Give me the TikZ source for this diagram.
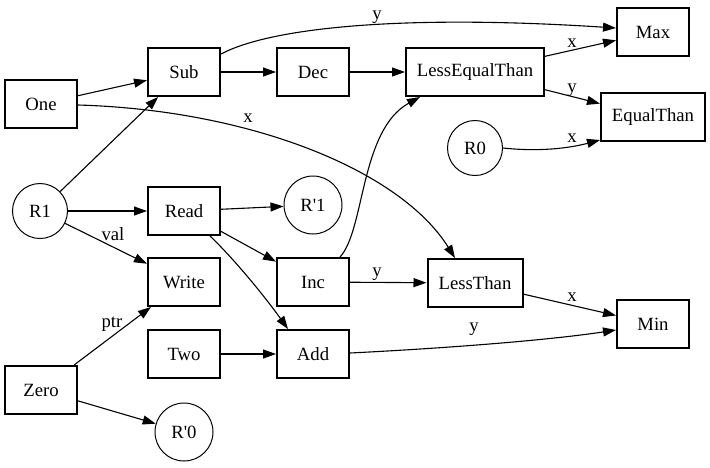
\documentclass[tikz,border=0pt]{standalone}
\usepackage{fontspec}
\setmainfont{Liberation Serif}
\usetikzlibrary{arrows.meta}
\begin{document}
\begin{tikzpicture}[x=1pt,y=-1pt,
  every node/.style={font=\fontsize{18.7}{22}\selectfont, inner sep=0pt},
  opbox/.style={draw, line width=2pt, rectangle, minimum height=48pt, minimum width=72pt},
  reg/.style={draw, line width=1pt, circle, minimum size=55pt},
  regp/.style={draw, line width=1pt, circle, minimum size=58pt},
  edge/.style={line width=1.1pt, -{Triangle[length=13pt,width=9pt]}},
  lbl/.style={}
]
\useasboundingbox (0,0) rectangle (710,467);
\node[opbox] (One) at (41,104) {One};
\node[opbox] (Sub) at (184,72) {Sub};
\node[opbox] (Dec) at (313,72) {Dec};
\node[opbox, minimum width=138pt] (LEQ) at (475,72) {LessEqualThan};
\node[opbox] (Max) at (653,32) {Max};
\node[opbox, minimum width=104pt] (EQ) at (653,117) {EqualThan};
\node[reg] (R0) at (475,148) {R0};
\node[reg] (R1) at (40,211) {R1};
\node[opbox] (Read) at (184,211) {Read};
\node[regp] (Rp1) at (313,205) {R\textquotesingle 1};
\node[opbox] (Write) at (184,282) {Write};
\node[opbox] (Inc) at (313,282) {Inc};
\node[opbox, minimum width=95pt] (LT) at (475,283) {LessThan};
\node[opbox] (Min) at (653,324) {Min};
\node[opbox] (Two) at (184,354) {Two};
\node[opbox] (Add) at (313,354) {Add};
\node[opbox] (Zero) at (41,390) {Zero};
\node[regp] (Rp0) at (184,432) {R\textquotesingle 0};

\draw[edge] (One) -- (Sub);
\draw[edge] (One.east |- 0,105) .. controls (250,110) and (400,170) .. (LT.north west -| 455,0);
\draw[edge] (R1) -- (Sub);
\draw[edge] (R1) -- (Read);
\draw[edge] (R1) -- (Write);
\draw[edge] (Zero) -- (Write);
\draw[edge] (Zero) -- (Rp0);
\draw[edge] (Sub) -- (Dec);
\draw[edge] (Sub.north east |- 0,54) .. controls (270,28) and (400,14) .. (Max.west |- 0,28);
\draw[edge] (Dec) -- (LEQ);
\draw[edge] (LEQ) -- (Max);
\draw[edge] (LEQ) -- (EQ);
\draw[edge] (R0.east) .. controls (540,152) and (570,148) .. (EQ.west |- 0,140);
\draw[edge] (Read) -- (Rp1);
\draw[edge] (Read) -- (Inc);
\draw[edge] (Read.south -| 210,0) .. controls (230,255) and (260,290) .. (Add.north -| 288,0);
\draw[edge] (Inc.north -| 340,0) .. controls (365,230) and (360,130) .. (LEQ.south -| 420,0);
\draw[edge] (Inc) -- (LT);
\draw[edge] (LT) -- (Min);
\draw[edge] (Add.east |- 0,353) .. controls (450,348) and (550,340) .. (Min.west |- 0,330);
\draw[edge] (Two) -- (Add);

\node[lbl] (l1) at (248,118) {x};
\node[lbl] (l2) at (377,17) {y};
\node[lbl] (l3) at (572,43) {x};
\node[lbl] (l4) at (572,90) {y};
\node[lbl] (l5) at (572,138) {x};
\node[lbl] (l6) at (113,234) {val};
\node[lbl] (l7) at (112,324) {ptr};
\node[lbl] (l8) at (377,274) {y};
\node[lbl] (l9) at (572,297) {x};
\node[lbl] (l10) at (474,329) {y};
\end{tikzpicture}
\end{document}
